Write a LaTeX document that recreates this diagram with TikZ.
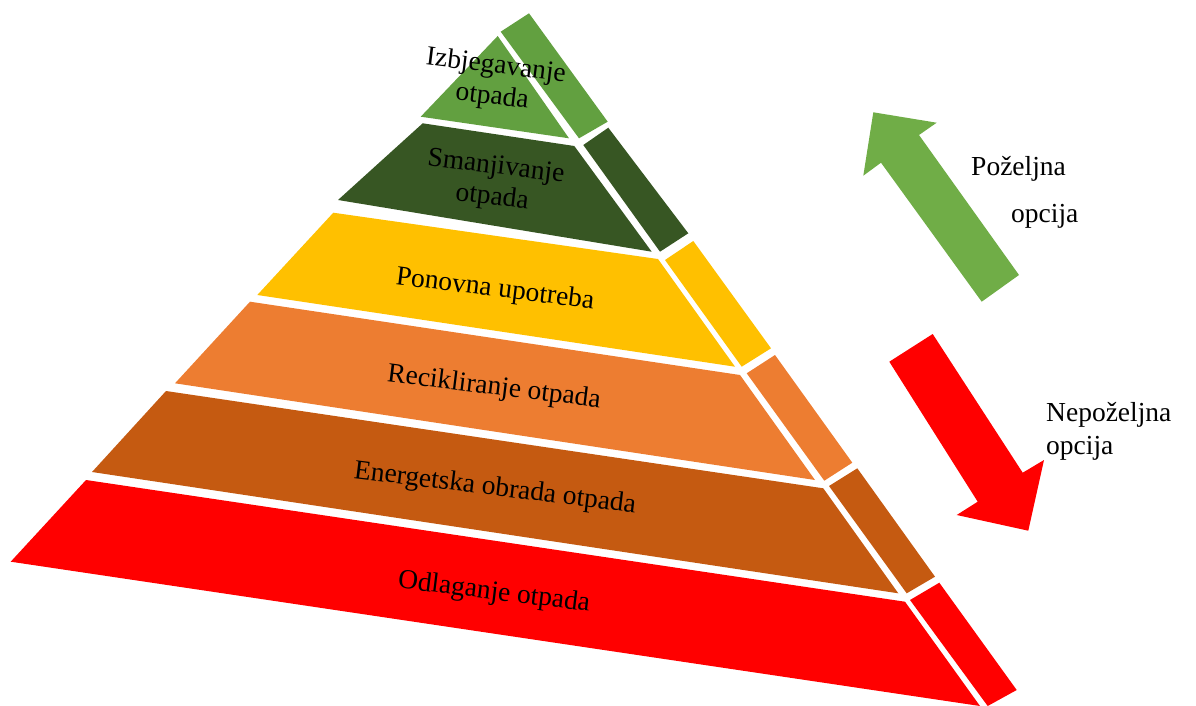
\documentclass[tikz,border=0pt]{standalone}
\usepackage{fontspec}
\setmainfont{Liberation Serif}
\definecolor{lgreen}{HTML}{62A040}
\definecolor{dgreen}{HTML}{375623}
\definecolor{myyellow}{HTML}{FFC000}
\definecolor{myorange}{HTML}{ED7D31}
\definecolor{mybrown}{HTML}{C55A11}
\definecolor{myred}{HTML}{FF0000}
\definecolor{agreen}{HTML}{70AD47}
\begin{document}
\begin{tikzpicture}[x=1pt,y=-1pt,
  lbl/.style={font=\fontsize{27.5}{31}\selectfont, text=black, align=center, rotate=-7, inner sep=0pt},
  side/.style={font=\fontsize{27.5}{33}\selectfont, text=black, align=left, inner sep=0pt, anchor=west}]
\useasboundingbox (0,0) rectangle (1196,706);
% front faces
\fill[lgreen]   (497.7,36) -- (569,138.3) -- (420.7,116.7) -- cycle;
\fill[dgreen]   (422.7,123.3) -- (574.3,146) -- (651.7,251.7) -- (338,200) -- cycle;
\fill[myyellow] (333.3,212.7) -- (658,259) -- (735,366.7) -- (257.3,295) -- cycle;
\fill[myorange] (250,301.7) -- (740,375) -- (815,480) -- (175,383.3) -- cycle;
\fill[mybrown]  (166,391) -- (823.3,488.3) -- (898.3,593.3) -- (92,472) -- cycle;
\fill[myred]    (86,480) -- (905,601.7) -- (980,706) -- (10.7,561.7) -- cycle;
% side faces
\fill[lgreen]   (500.7,31.7) -- (529,13.3) -- (607.7,121.7) -- (579,138.3) -- cycle;
\fill[dgreen]   (583.3,145) -- (608.3,127.7) -- (688.3,233.3) -- (660,251.7) -- cycle;
\fill[myyellow] (665,260) -- (693.3,241) -- (771,348.3) -- (741.7,366.7) -- cycle;
\fill[myorange] (746.7,373.3) -- (775,355) -- (852.3,462.7) -- (824.3,480.7) -- cycle;
\fill[mybrown]  (829,486) -- (857.3,468.3) -- (935,576.7) -- (906.7,593.3) -- cycle;
\fill[myred]    (910,600) -- (939.3,582.7) -- (1016.7,690) -- (987.7,706) -- cycle;
% labels
\node[lbl] (t1) at (494,82) {Izbjegavanje\\otpada};
\node[lbl] (t2) at (494,183) {Smanjivanje\\otpada};
\node[lbl] (t3) at (495,290) {Ponovna upotreba};
\node[lbl] (t4) at (494,388) {Recikliranje otpada};
\node[lbl] (t5) at (495,489) {Energetska obrada otpada};
\node[lbl] (t6) at (494,593) {Odlaganje otpada};
% arrows
\fill[agreen] (873.3,112.3) -- (936.7,122.7) -- (919,135) -- (1019,275) -- (981.7,301.7) -- (881,162.7) -- (863.3,175.7) -- cycle;
\fill[myred] (932.7,334) -- (1022.7,472.7) -- (1044,460) -- (1028.3,530.7) -- (956.7,515) -- (977.7,501.7) -- (889.3,361.7) -- cycle;
\node[side] (p1) at (971,169) {Poželjna};
\node[side] (p2) at (1011,216) {opcija};
\node[side] (n1) at (1046,431) {Nepoželjna\\opcija};
\end{tikzpicture}
\end{document}
